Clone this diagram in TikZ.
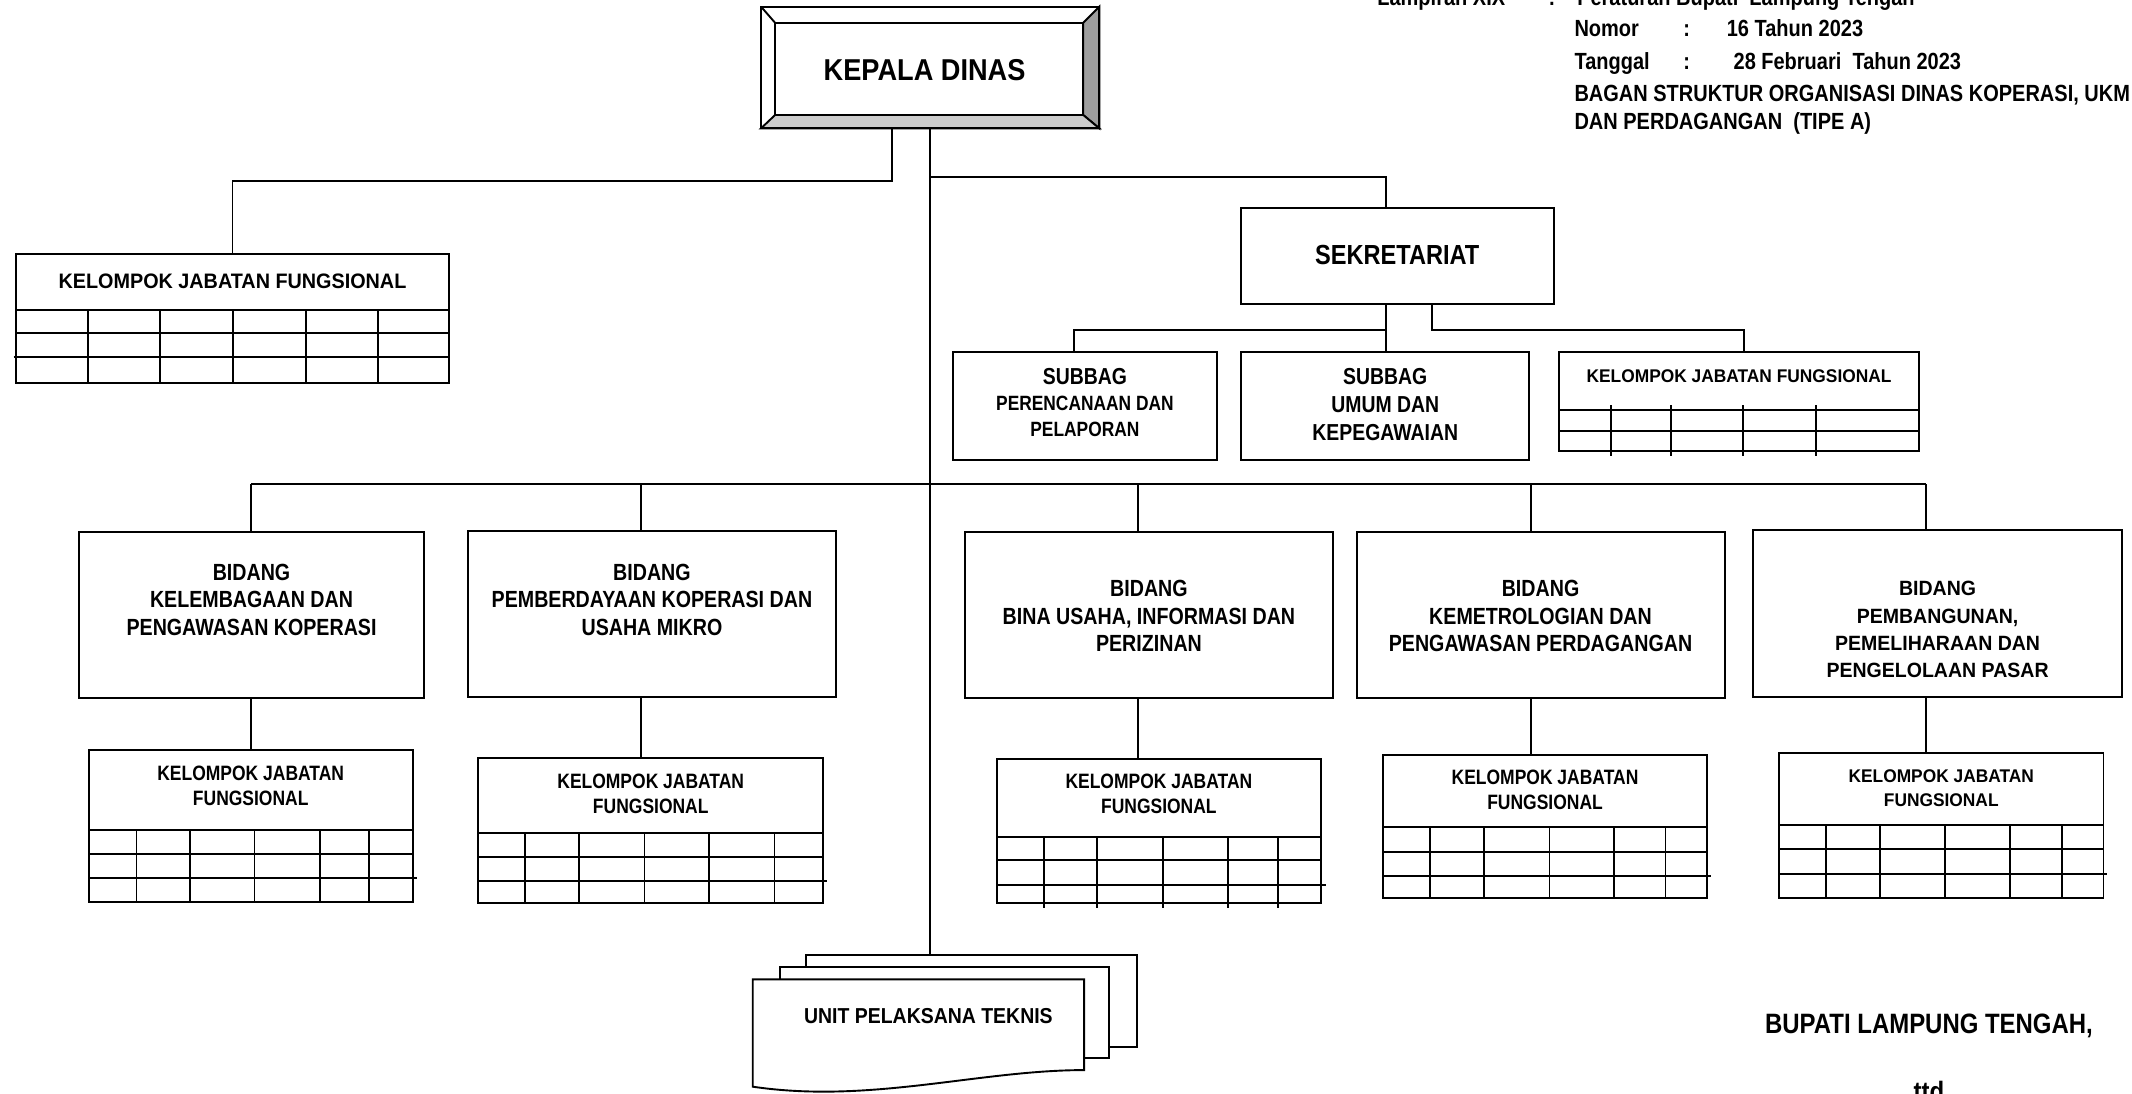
\documentclass[tikz,border=0pt]{standalone}
\usepackage{fontspec}
\setmainfont{Liberation Sans}
\newfontfamily\fK{Liberation Sans}[FakeStretch=0.9]
\newfontfamily\fT{Liberation Sans}[FakeStretch=0.855]
\newfontfamily\fN{Liberation Sans}[FakeStretch=0.84]
\newfontfamily\fW{Liberation Sans}[FakeStretch=0.945]
\usetikzlibrary{calc}
\tikzset{
  bx/.style={draw, fill=white, line width=1.4pt, inner sep=0pt, outer sep=0pt, rectangle},
  ln/.style={line width=1.4pt},
  cn/.style={line width=1.4pt},
  txt/.style={inner sep=0pt, outer sep=0pt, align=center},
  hdr/.style={anchor=base west, inner sep=0pt, outer sep=0pt, font=\fT\bfseries\fontsize{17.2}{19.6}\selectfont},
  bidtxt/.style={txt, font=\fN\bfseries\fontsize{17.2}{20.3}\selectfont},
  kjftxt/.style={txt, font=\fN\bfseries\fontsize{15.3}{18.4}\selectfont}
}
\newcommand\bxat[5]{\node[bx,minimum width={#4-#2},minimum height={#5-#3}] (#1) at ({(#2+#4)/2},{(#3+#5)/2}) {};}
\newcommand\gridlines[6]{%
  \draw[ln] (#1,#3) -- (#2,#3);
  \foreach \yy in {#5} {\draw[ln] (#1,\yy) -- (#2,\yy);}
  \foreach \xx in {#6} {\draw[ln] (\xx,#3) -- (\xx,#4);}
}
\begin{document}
\begin{tikzpicture}[x=1pt,y=-1pt]
\useasboundingbox (0,0) rectangle (1568,804);
\clip (0,0) rectangle (1568,804);
\fill[white] (0,0) rectangle (1568,804);

% ---------- header text ----------
\node[hdr] (l0a) at (1013,4) {Lampiran XIX};
\node[hdr] (l0b) at (1139,4) {:};
\node[hdr] (l0c) at (1160,4) {Peraturan Bupati\ \ Lampung Tengah};
\node[hdr] (l1a) at (1158,26.5) {Nomor};
\node[hdr] (l1b) at (1238,26.5) {:};
\node[hdr] (l1c) at (1270,26.5) {16 Tahun 2023};
\node[hdr] (l2a) at (1158,51) {Tanggal};
\node[hdr] (l2b) at (1238,51) {:};
\node[hdr] (l2c) at (1275,51) {28 Februari\ \ Tahun 2023};
\node[hdr] (l3) at (1158,75) {BAGAN STRUKTUR ORGANISASI DINAS KOPERASI, UKM};
\node[hdr] (l4) at (1158,95) {DAN PERDAGANGAN\ \ (TIPE A)};

% ---------- Kepala Dinas (bevelled) ----------
\node[inner sep=0pt, outer sep=0pt, minimum width=248.8, minimum height=89.5] (kd) at (684.1,49.65) {};
\coordinate (i1) at ($(kd.north west)+(10.3,11.8)$);
\coordinate (i2) at ($(kd.north east)+(-11.8,11.8)$);
\coordinate (i3) at ($(kd.south east)+(-11.8,-9.8)$);
\coordinate (i4) at ($(kd.south west)+(10.3,-9.8)$);
\fill[white] (kd.north west) rectangle (kd.south east);
\filldraw[fill=black!38, ln, line join=miter] (kd.north east) -- (kd.south east) -- (i3) -- (i2) -- cycle;
\filldraw[fill=black!20, ln, line join=miter] (kd.south west) -- (kd.south east) -- (i3) -- (i4) -- cycle;
\draw[ln] (kd.north west) -- (i1);
\draw[ln] (kd.north west) rectangle (kd.south east);
\draw[ln] (i1) rectangle (i3);
\node[txt, font=\fK\bfseries\fontsize{22.2}{26}\selectfont] (kdt) at (680,51.5) {KEPALA DINAS};

% ---------- Kelompok JF (left top) ----------
\bxat{k0}{12}{187}{330}{282}
\gridlines{12}{330}{228}{282}{245,262.5}{65,118,171.6,225,278}
\draw[ln] (10,262.5) -- (12,262.5);
\node[txt, font=\fW\bfseries\fontsize{15.4}{18}\selectfont] (k0t) at (171,207) {KELOMPOK JABATAN FUNGSIONAL};

% ---------- Sekretariat ----------
\bxat{sek}{912.7}{153}{1142.6}{223.6}
\node[txt, font=\fT\bfseries\fontsize{20.3}{24}\selectfont] (sekt) at (1027.6,187.5) {SEKRETARIAT};

\bxat{sb1}{700.9}{259}{894.9}{338}
\node[txt, font=\fN\bfseries\fontsize{15.2}{19}\selectfont] (sb1t) at (797.9,296)
  {{\fontsize{17}{19}\selectfont SUBBAG}\\PERENCANAAN DAN\\PELAPORAN};
\bxat{sb2}{912.9}{259}{1124.6}{338}
\node[txt, font=\fN\bfseries\fontsize{17}{20.5}\selectfont] (sb2t) at (1018.8,297.5)
  {SUBBAG\\UMUM DAN\\KEPEGAWAIAN};

\bxat{sk}{1146.5}{259}{1411}{332}
\draw[ln] (1146.5,301.6) -- (1411,301.6);
\draw[ln] (1146.5,317) -- (1411,317);
\foreach \xx in {1184.6,1229,1282,1335.5} {\draw[ln] (\xx,298) -- (\xx,335);}
\node[txt, font=\fW\bfseries\fontsize{13.5}{16}\selectfont] (skt) at (1279,277) {KELOMPOK JABATAN FUNGSIONAL};

% ---------- Bidang ----------
\bxat{b1}{57.8}{391}{312.1}{513.6}
\bxat{b2}{344.3}{390.5}{614.8}{512.9}
\bxat{b3}{709.7}{391}{980.4}{513.6}
\bxat{b4}{998}{391}{1268.5}{513.6}
\bxat{b5}{1289.5}{389.8}{1560.4}{512.4}
\node[bidtxt] (b1t) at (185,441) {BIDANG\\KELEMBAGAAN DAN\\PENGAWASAN KOPERASI};
\node[bidtxt] (b2t) at (479.5,441) {BIDANG\\PEMBERDAYAAN KOPERASI DAN\\USAHA MIKRO};
\node[bidtxt] (b3t) at (845,453) {BIDANG\\BINA USAHA, INFORMASI DAN\\PERIZINAN};
\node[bidtxt] (b4t) at (1133,453) {BIDANG\\KEMETROLOGIAN DAN\\PENGAWASAN PERDAGANGAN};
\node[txt, font=\fW\bfseries\fontsize{15.2}{20}\selectfont] (b5t) at (1425,463)
  {BIDANG\\PEMBANGUNAN,\\PEMELIHARAAN DAN\\PENGELOLAAN PASAR};

% ---------- Kelompok JF under Bidang ----------
\bxat{k1}{65.2}{551.6}{303.5}{663.2}
\gridlines{65.2}{303.5}{610.4}{663.2}{628}{100.4,139.7,187.2,235.3,271.6}
\draw[ln] (65.2,646) -- (307,646);
\node[kjftxt] (k1t) at (184.4,578) {KELOMPOK JABATAN\\FUNGSIONAL};

\bxat{k2}{351.7}{557.7}{605.6}{664.4}
\gridlines{351.7}{605.6}{612.9}{664.4}{630.5}{385.8,425.8,474,521.4,569.6}
\draw[ln] (351.7,648) -- (608.2,648);
\node[kjftxt] (k2t) at (478.6,584.1) {KELOMPOK JABATAN\\FUNGSIONAL};

\bxat{k3}{733.4}{558.5}{971.3}{664.4}
\gridlines{733.4}{971.3}{615.3}{668}{632.5}{767.5,807,855.3,902.9,940.2}
\draw[ln] (733.4,650.9) -- (975,650.9);
\node[kjftxt] (k3t) at (852.3,584.1) {KELOMPOK JABATAN\\FUNGSIONAL};

\bxat{k4}{1017}{555.3}{1255.6}{660.7}
\gridlines{1017}{1255.6}{608.5}{660.7}{626.4}{1051.8,1091.3,1139.6,1187.2,1224.9}
\draw[ln] (1017,644.3) -- (1258.5,644.3);
\node[kjftxt] (k4t) at (1136.3,581) {KELOMPOK JABATAN\\FUNGSIONAL};

\bxat{k5}{1308.4}{554}{1547}{660.7}
\gridlines{1308.4}{1547}{606.8}{660.7}{624.6}{1343,1382.7,1430.5,1478.3,1516.3}
\draw[ln] (1308.4,642.8) -- (1549.4,642.8);
\node[txt, font=\fW\bfseries\fontsize{13.5}{17.2}\selectfont] (k5t) at (1427.7,579.8) {KELOMPOK JABATAN\\FUNGSIONAL};

% ---------- UPT ----------
\node[bx, minimum width=243.3, minimum height=67.4] (u3) at (714.45,736.1) {};
\node[bx, minimum width=242, minimum height=66.9] (u2) at (694.7,744.95) {};
\node[inner sep=0pt, outer sep=0pt, minimum width=243.7, minimum height=78.9] (u1) at (675.45,759.75) {};
\filldraw[fill=white, ln] (u1.north west) -- (u1.north east) -- ($(u1.north east)+(0,66.7)$)
  .. controls (720,787) and (640,812) .. (u1.south west) -- cycle;
\node[txt, font=\fK\bfseries\fontsize{15.9}{18}\selectfont] (u1t) at (682.8,747.2) {UNIT PELAKSANA TEKNIS};

% ---------- signature ----------
\node[anchor=base, inner sep=0pt, font=\fT\bfseries\fontsize{20.6}{24}\selectfont] (bup) at (1418.7,760) {BUPATI LAMPUNG TENGAH,};
\node[anchor=base, inner sep=0pt, font=\fT\bfseries\fontsize{20.6}{24}\selectfont] (ttd) at (1418.7,810) {ttd};

% ---------- connectors ----------
\coordinate (rj) at (684.1,130);
\coordinate (c1) at (184.9,356);
\coordinate (c2) at (471.4,356);
\coordinate (c3) at (837,356);
\coordinate (c4) at (1125.7,356);
\coordinate (c5) at (1416.5,356);
\coordinate (sj) at (1019.05,242.7);

\draw[cn] (kd.south) -- (kd.south |- u3.north);
\draw[cn] ([xshift=-28]kd.south) -- ++(0,39) -| (k0.north);
\draw[cn] (rj) -| ([xshift=-8.6]sek.north);
\draw[cn] ([xshift=-8.6]sek.south) -- ([xshift=-8.6]sek.south |- sb2.north);
\draw[cn] (sj) -| ([xshift=-8.3]sb1.north);
\draw[cn] ([xshift=25.2]sek.south) -- ++(0,19.1) -| ([xshift=4.2]sk.north);
\draw[cn] (c1) -- (c5);
\foreach \i in {1,...,5} {
  \draw[cn] (c\i) -- (c\i |- b\i.north);
  \draw[cn] (c\i |- b\i.south) -- (c\i |- k\i.north);
}
\end{tikzpicture}
\end{document}
